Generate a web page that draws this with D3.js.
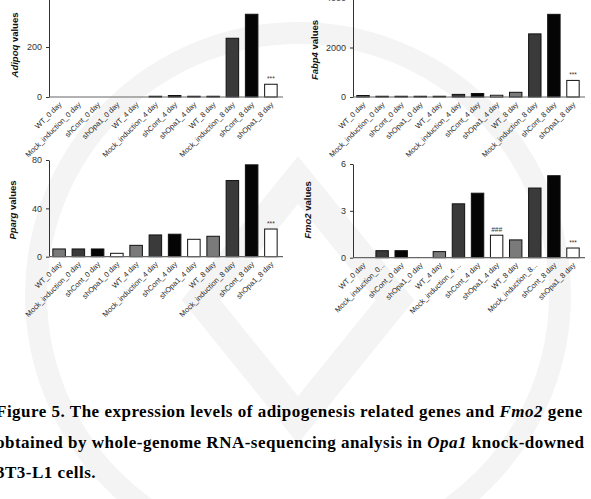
<!DOCTYPE html>
<html>
<head>
<meta charset="utf-8" />
<title>Figure 5</title>
<script src="https://cdn.jsdelivr.net/npm/d3@7"></script>
<style>
  body { margin: 0; background: #fff; }
  svg { display: block; }
</style>
</head>
<body>
<div id="chart"></div>
<script>
// group labels on the x axis
const groups = ['WT_0 day', 'Mock_induction_0 day', 'shCont_0 day', 'shOpa1_0 day',
  'WT_4 day', 'Mock_induction_4 day', 'shCont_4 day', 'shOpa1_4 day',
  'WT_8 day', 'Mock_induction_8 day', 'shCont_8 day', 'shOpa1_8 day'];
const fmo2Groups = ['WT_0 day', 'Mock_induction_0...', 'shCont_0 day', 'shOpa1_0 day',
  'WT_4 day', 'Mock_induction_4 ...', 'shCont_4 day', 'shOpa1_4 day',
  'WT_8 day', 'Mock_induction_8...', 'shCont_8 day', 'shOpa1_8 day'];

// values
const adipoq = [0, 0, 0, 0, 0, 3, 6, 3, 3, 235, 331, 51];
const fabp4 = [60, 30, 30, 30, 30, 105, 140, 70, 190, 2550, 3340, 670];
const pparg = [6.4, 6.4, 6.4, 2.8, 9.4, 18, 18.6, 14.4, 16.9, 63, 76, 22.9];
const fmo2 = [0, 0.45, 0.45, 0, 0.39, 3.45, 4.13, 1.44, 1.14, 4.46, 5.25, 0.62];

// tick values
const adipoqTicks = [0, 200, 400];
const fabp4Ticks = [0, 2000, 4000];
const ppargTicks = [0, 40, 80];
const fmo2Ticks = [0, 3, 6];

// significance marks, by group index
const adipoqMarks = [{ i: 11, t: '***' }];
const fabp4Marks = [{ i: 11, t: '***' }];
const ppargMarks = [{ i: 11, t: '***' }];
const fmo2Marks = [{ i: 7, t: '###' }, { i: 11, t: '***' }];

const fills = ['#7a7a7a', '#3a3a3a', '#050505', '#ffffff'];

const width = 591;
const height = 499;

const svg = d3.select('#chart')
  .append('svg')
  .attr('width', width)
  .attr('height', height);

// faint watermark seal behind everything
const wm = svg.append('g').attr('fill', 'none').attr('stroke', '#f4f4f4');
wm.append('circle').attr('cx', 298).attr('cy', 295).attr('r', 262).attr('stroke-width', 22);
wm.append('path')
  .attr('d', 'M298,180 L395,300 L298,420 L201,300 Z')
  .attr('stroke-width', 30);

function panel(o) {
  const g = svg.append('g');
  const x = d3.scaleBand()
    .domain(d3.range(o.values.length))
    .range([o.x0, o.x1])
    .paddingInner(0.35)
    .paddingOuter(0.2);
  const y = d3.scaleLinear()
    .domain([0, o.max])
    .range([o.y0, o.yTop]);

  // y axis
  const ya = g.append('g')
    .attr('transform', `translate(${o.x0},0)`)
    .call(d3.axisLeft(y).tickValues(o.ticks).tickFormat(d => String(d))
      .tickSize(3).tickPadding(4).tickSizeOuter(0));
  ya.select('.domain').attr('stroke', '#333');
  ya.selectAll('.tick line').attr('stroke', '#333');
  ya.selectAll('.tick text')
    .attr('fill', '#333')
    .style('font-family', 'Arial, "Liberation Sans", sans-serif')
    .style('font-size', '9px');

  // bars
  g.selectAll('rect.bar')
    .data(o.values)
    .join('rect')
    .attr('class', 'bar')
    .attr('x', (d, i) => x(i))
    .attr('y', d => y(d))
    .attr('width', x.bandwidth())
    .attr('height', d => o.y0 - y(d))
    .attr('fill', (d, i) => fills[i % 4])
    .attr('stroke', d => d > 0 ? '#111' : 'none')
    .attr('stroke-width', 1);

  // x axis line
  g.append('line')
    .attr('x1', o.x0).attr('x2', o.x1 + 2)
    .attr('y1', o.y0).attr('y2', o.y0)
    .attr('stroke', '#666')
    .attr('stroke-width', 1.2);

  // category labels
  g.selectAll('text.cat')
    .data(o.labels)
    .join('text')
    .attr('class', 'cat')
    .attr('transform', (d, i) => `translate(${x(i) + x.bandwidth() / 2 + 3},${o.y0 + 8}) rotate(-45)`)
    .attr('text-anchor', 'end')
    .attr('fill', '#2a2a2a')
    .style('font-family', 'Arial, "Liberation Sans", sans-serif')
    .style('font-size', '7.5px')
    .text(d => d);

  // significance marks
  g.selectAll('text.sig')
    .data(o.marks)
    .join('text')
    .attr('class', 'sig')
    .attr('x', d => x(d.i) + x.bandwidth() / 2)
    .attr('y', d => y(o.values[d.i]) - 3)
    .attr('text-anchor', 'middle')
    .attr('fill', '#333')
    .style('font-family', 'Arial, "Liberation Sans", sans-serif')
    .style('font-size', '6.5px')
    .style('font-style', d => d.t === '###' ? 'italic' : 'normal')
    .text(d => d.t);

  // y title: gene name in italics
  const t = g.append('text')
    .attr('transform', `translate(${o.tx},${o.ty}) rotate(-90)`)
    .attr('text-anchor', 'middle')
    .attr('fill', '#111')
    .style('font-family', 'Arial, "Liberation Sans", sans-serif')
    .style('font-size', '9.5px')
    .style('font-weight', 'bold');
  t.append('tspan').style('font-style', 'italic').text(o.gene);
  t.append('tspan').text(' values');
}

panel({ values: adipoq, labels: groups, marks: adipoqMarks, gene: 'Adipoq',
  max: 400, ticks: adipoqTicks, x0: 49, x1: 281, y0: 97, yTop: -3, tx: 18, ty: 45 });
panel({ values: fabp4, labels: groups, marks: fabp4Marks, gene: 'Fabp4',
  max: 4000, ticks: fabp4Ticks, x0: 353, x1: 583, y0: 97, yTop: -2, tx: 318, ty: 50 });
panel({ values: pparg, labels: groups, marks: ppargMarks, gene: 'Pparg',
  max: 80, ticks: ppargTicks, x0: 49, x1: 281, y0: 256.7, yTop: 160, tx: 16, ty: 210 });
panel({ values: fmo2, labels: fmo2Groups, marks: fmo2Marks, gene: 'Fmo2',
  max: 6, ticks: fmo2Ticks, x0: 353, x1: 583, y0: 257.7, yTop: 164, tx: 311, ty: 210 });

// figure caption
const caption = svg.append('text')
  .attr('fill', '#000')
  .style('font-family', '"Liberation Serif", "Times New Roman", serif')
  .style('font-size', '17px')
  .style('font-weight', 'bold')
  .style('letter-spacing', '0.5px');
const lines = [
  [['Figure 5. The expression levels of adipogenesis related genes and ', false], ['Fmo2', true], [' gene', false]],
  [['obtained by whole-genome RNA-sequencing analysis in ', false], ['Opa1', true], [' knock-downed', false]],
  [['3T3-L1 cells.', false]]
];
const baselines = [417, 448, 478];
lines.forEach((parts, li) => {
  parts.forEach(([s, it], pi) => {
    const sp = caption.append('tspan').text(s).style('font-style', it ? 'italic' : 'normal');
    if (pi === 0) sp.attr('x', -4).attr('y', baselines[li]);
  });
});
</script>
</body>
</html>
